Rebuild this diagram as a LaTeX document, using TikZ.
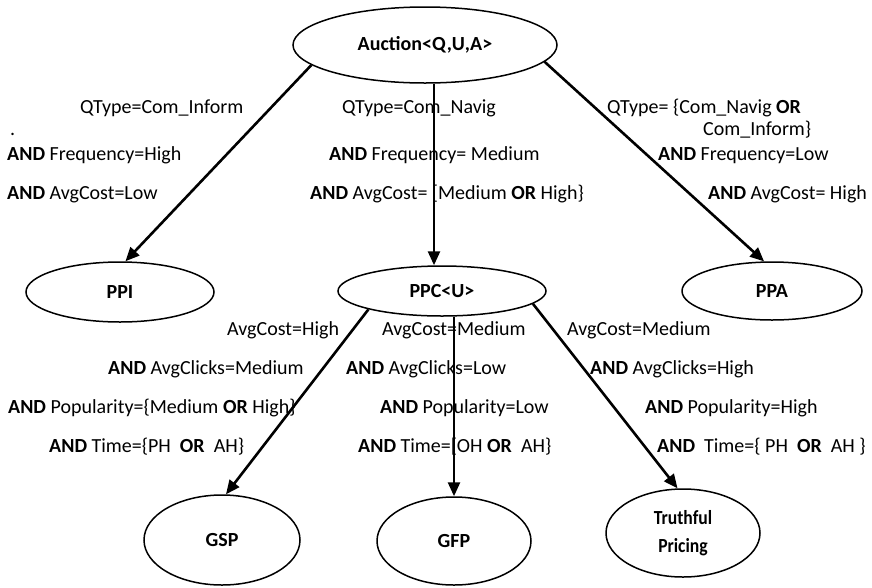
\documentclass[tikz,border=0pt]{standalone}
\usepackage{fontspec}
\setmainfont{Carlito}
\usetikzlibrary{shapes.geometric,arrows.meta}

\begin{document}
\begin{tikzpicture}[x=1pt,y=-1pt,
  every node/.style={font=\fontsize{20}{24}\selectfont},
  state/.style={ellipse,draw,line width=1.5pt,inner sep=0pt,
    font=\fontsize{20}{28}\selectfont\bfseries,align=center},
  link/.style={line width=2.6pt,-{Triangle[length=14pt,width=12pt]}},
  cond/.style={anchor=base west,inner sep=0pt}]
\useasboundingbox (0,0) rectangle (872,587);

% auction types
\node[state,minimum width=264pt,minimum height=76pt] (auction) at (425,45) {Auction<Q,U,A>};
\node[state,minimum width=188pt,minimum height=60pt] (ppi) at (120,292) {PPI};
\node[state,minimum width=208pt,minimum height=50pt] (ppc) at (442,291) {PPC<U>};
\node[state,minimum width=180pt,minimum height=58pt] (ppa) at (772,291) {PPA};
\node[state,minimum width=156pt,minimum height=90pt] (gsp) at (222,540) {GSP};
\node[state,minimum width=154pt,minimum height=88pt] (gfp) at (454,541) {GFP};
\node[state,minimum width=154pt,minimum height=88pt] (truth) at (683,533)
  {\scalebox{0.88}[1]{Truthful}\\\scalebox{0.88}[1]{Pricing}};

% conditions for choosing the pricing model
\node[cond] (a1) at (80,113) {QType=Com\_Inform};
\node[cond] (a0) at (10,135) {.};
\node[cond] (a2) at (7,160) {\textbf{AND} Frequency=High};
\node[cond] (a3) at (7,199) {\textbf{AND} AvgCost=Low};

\node[cond] (b1) at (342,113) {QType=Com\_Navig};
\node[cond] (b2) at (329,160) {\textbf{AND} Frequency= Medium};
\node[cond] (b3) at (310,199) {\textbf{AND} AvgCost= [Medium \textbf{OR} High\}};

\node[cond] (c1) at (607,113) {QType= \{Com\_Navig \textbf{OR}};
\node[cond] (c0) at (703,135) {Com\_Inform\}};
\node[cond] (c2) at (658,160) {\textbf{AND} Frequency=Low};
\node[cond] (c3) at (708,199) {\textbf{AND} AvgCost= High};

% conditions for choosing the PPC auction
\node[cond] (d1) at (227,335) {AvgCost=High};
\node[cond] (d2) at (108,374) {\textbf{AND} AvgClicks=Medium};
\node[cond] (d3) at (8,413) {\textbf{AND} Popularity=\{Medium \textbf{OR} High\}};
\node[cond] (d4) at (49,452) {\textbf{AND} Time=\{PH\ \ \textbf{OR}\ \ AH\}};

\node[cond] (e1) at (382,335) {AvgCost=Medium};
\node[cond] (e2) at (346,374) {\textbf{AND} AvgClicks=Low};
\node[cond] (e3) at (380,413) {\textbf{AND} Popularity=Low};
\node[cond] (e4) at (358,452) {\textbf{AND} Time=[OH \textbf{OR}\ \ AH\}};

\node[cond] (f1) at (567,335) {AvgCost=Medium};
\node[cond] (f2) at (590,374) {\textbf{AND} AvgClicks=High};
\node[cond] (f3) at (645,413) {\textbf{AND} Popularity=High};
\node[cond] (f4) at (657,452) {\textbf{AND}\ \ Time=\{ PH\ \ \textbf{OR}\ \ AH \}};

% connectors
\coordinate (ppcin) at ([xshift=-8pt]ppc.north);
\draw[link] (auction.190) -- (ppi.80);
\draw[link] (auction.south -| ppcin) -- (ppcin);
\draw[link] (auction.352) -- (ppa.105);
\draw[link] (ppc.194) -- (gsp.85);
\draw[link] (ppc.south -| gfp.north) -- (gfp.north);
\draw[link] (ppc.352) -- (truth.97);
\end{tikzpicture}
\end{document}
